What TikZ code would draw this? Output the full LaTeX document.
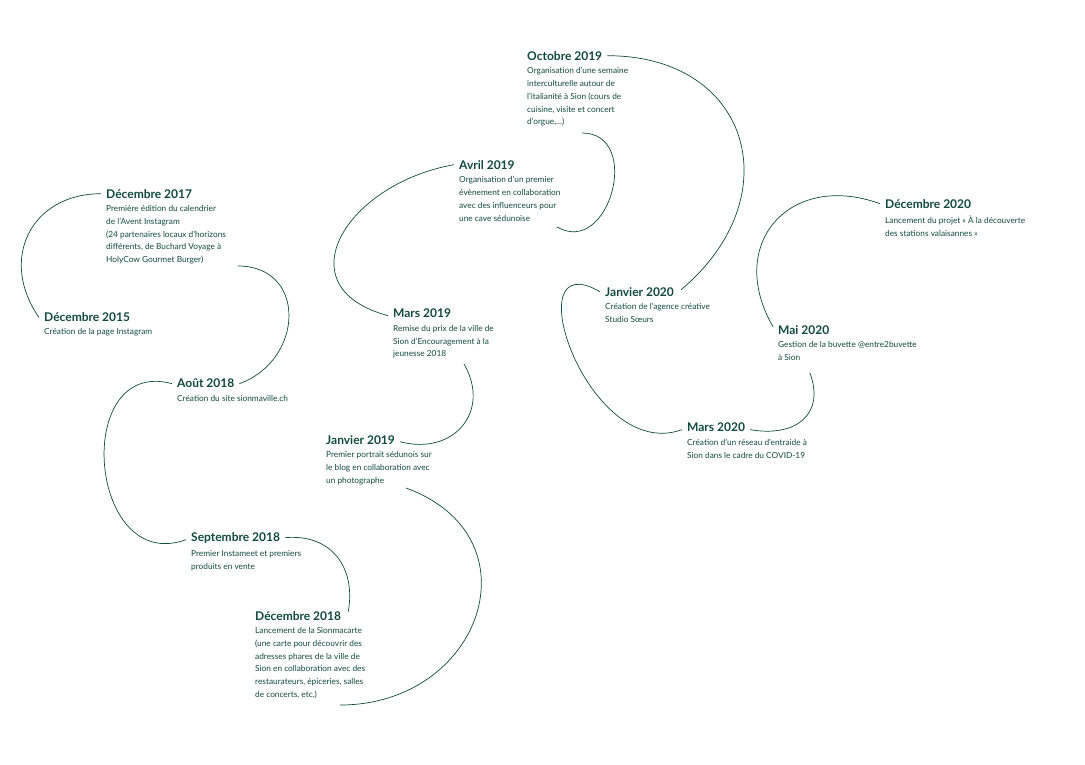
\documentclass[tikz,border=0pt]{standalone}
\usepackage{fontspec}
\setmainfont{Lato}
\usetikzlibrary{positioning}
\definecolor{sapin}{HTML}{114A3B}
\tikzset{
  yearhead/.style={anchor=north west,inner sep=1pt,text=sapin,font=\fontsize{12}{14}\selectfont\bfseries},
  yeartext/.style={anchor=north west,inner sep=1pt,align=left,text=sapin,font=\fontsize{8.3}{12.7}\selectfont},
  loop/.style={draw=sapin,line width=0.7pt},
}
\begin{document}
\begin{tikzpicture}[x=1pt,y=1pt]
\useasboundingbox (0,0) rectangle (1085,-764);
% entries
\node[yearhead] (h15) at (43,-311) {Décembre 2015};
\node[yeartext,below=5pt of h15.south west,anchor=north west] (b15) {Création de la page Instagram};
\node[yearhead] (h17) at (105,-188) {Décembre 2017};
\node[yeartext,below=5pt of h17.south west,anchor=north west] (b17) {Première édition du calendrier\\de l’Avent Instagram\\(24 partenaires locaux d’horizons\\différents, de Buchard Voyage à\\HolyCow Gourmet Burger)};
\node[yearhead] (h18a) at (176,-378) {Août 2018};
\node[yeartext,below=5pt of h18a.south west,anchor=north west] (b18a) {Création du site sionmaville.ch};
\node[yearhead] (h18s) at (190,-531) {Septembre 2018};
\node[yeartext,below=5pt of h18s.south west,anchor=north west] (b18s) {Premier Instameet et premiers\\produits en vente};
\node[yearhead] (h18d) at (254,-610) {Décembre 2018};
\node[yeartext,below=5pt of h18d.south west,anchor=north west] (b18d) {Lancement de la Sionmacarte\\(une carte pour découvrir des\\adresses phares de la ville de\\Sion en collaboration avec des\\restaurateurs, épiceries, salles\\de concerts, etc.)};
\node[yearhead] (h19j) at (325,-434) {Janvier 2019};
\node[yeartext,below=5pt of h19j.south west,anchor=north west] (b19j) {Premier portrait sédunois sur\\le blog en collaboration avec\\un photographe};
\node[yearhead] (h19m) at (392,-308) {Mars 2019};
\node[yeartext,below=5pt of h19m.south west,anchor=north west] (b19m) {Remise du prix de la ville de\\Sion d’Encouragement à la\\jeunesse 2018};
\node[yearhead] (h19a) at (458,-159) {Avril 2019};
\node[yeartext,below=5pt of h19a.south west,anchor=north west] (b19a) {Organisation d’un premier\\évènement en collaboration\\avec des influenceurs pour\\une cave sédunoise};
\node[yearhead] (h19o) at (526,-50) {Octobre 2019};
\node[yeartext,below=5pt of h19o.south west,anchor=north west] (b19o) {Organisation d’une semaine\\interculturelle autour de\\l’italianité à Sion (cours de\\cuisine, visite et concert\\d’orgue,...)};
\node[yearhead] (h20j) at (604,-286) {Janvier 2020};
\node[yeartext,below=5pt of h20j.south west,anchor=north west] (b20j) {Création de l’agence créative\\Studio Sœurs};
\node[yearhead] (h20m) at (686,-422) {Mars 2020};
\node[yeartext,below=5pt of h20m.south west,anchor=north west] (b20m) {Création d’un réseau d’entraide à\\Sion dans le cadre du COVID-19};
\node[yearhead] (h20a) at (777,-324) {Mai 2020};
\node[yeartext,below=5pt of h20a.south west,anchor=north west] (b20a) {Gestion de la buvette @entre2buvette\\à Sion};
\node[yearhead] (h20d) at (884,-198) {Décembre 2020};
\node[yeartext,below=5pt of h20d.south west,anchor=north west] (b20d) {Lancement du projet « À la découverte\\des stations valaisannes »};
% line ends after the last lines
\coordinate (e17) at (238,-266);
\coordinate (e18d) at (340,-705);
\coordinate (e19j) at (406,-488);
\coordinate (e19m) at (464,-364);
\coordinate (e19a) at (557,-227);
\coordinate (e19o) at (582,-133);
\coordinate (e20a) at (810,-373);
% loops
\draw[loop] ([xshift=-4pt,yshift=5pt]h15.south west) to[out=125,in=180,looseness=1.3] ([xshift=-4pt]h17.west);
\draw[loop] (e17) to[out=0,in=20,looseness=1.5] ([xshift=4pt]h18a.east);
\draw[loop] ([xshift=-4pt]h18a.west) to[out=165,in=200,looseness=1.7] ([xshift=-4pt,yshift=-2pt]h18s.west);
\draw[loop] ([xshift=4pt]h18s.east) to[out=5,in=80,looseness=1.2] ([xshift=6pt,yshift=4pt]h18d.east);
\draw[loop] (e18d) to[out=0,in=-20,looseness=1.6] (e19j);
\draw[loop] ([xshift=4pt,yshift=-2pt]h19j.east) to[out=-15,in=-60,looseness=1.4] (e19m);
\draw[loop] ([xshift=-4pt,yshift=-2pt]h19m.west) to[out=165,in=190,looseness=1.7] ([xshift=-4pt]h19a.west);
\draw[loop] (e19a) to[out=-30,in=0,looseness=1.6] (e19o);
\draw[loop] ([xshift=4pt]h19o.east) to[out=0,in=40,looseness=1.5] ([xshift=6pt,yshift=2pt]h20j.east);
\draw[loop] ([xshift=-4pt]h20j.west) to[out=150,in=200,looseness=1.6] ([xshift=-4pt,yshift=-2pt]h20m.west);
\draw[loop] ([xshift=4pt,yshift=-2pt]h20m.east) to[out=-10,in=-70,looseness=1.4] (e20a);
\draw[loop] ([xshift=-4pt,yshift=3pt]h20a.west) to[out=120,in=160,looseness=1.5] ([xshift=-4pt]h20d.west);
\end{tikzpicture}
\end{document}
